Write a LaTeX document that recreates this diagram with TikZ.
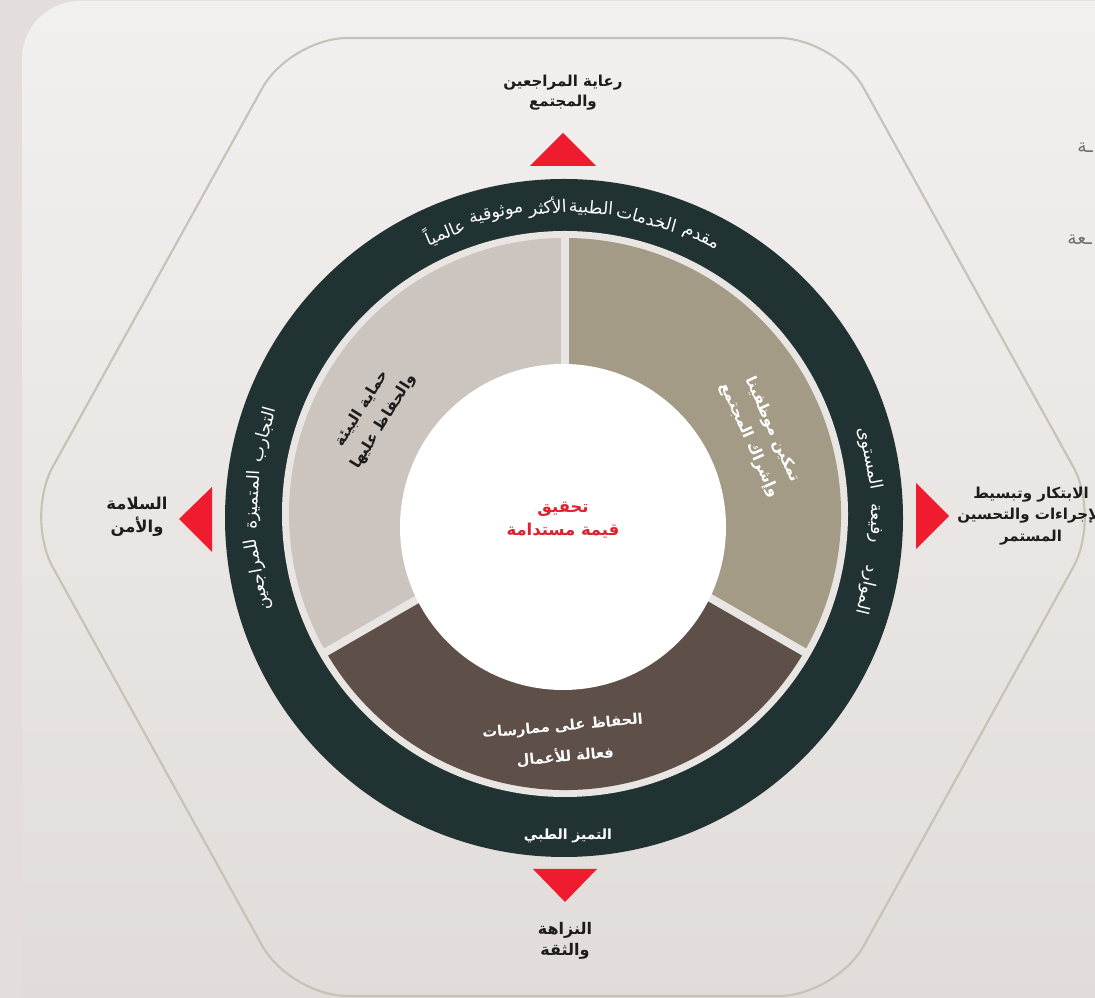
\documentclass[tikz,border=0pt]{standalone}
\usepackage{fontspec}
\TeXXeTstate=1
\newfontfamily\ar[Script=Arabic]{DejaVu Sans}
\definecolor{bgout}{HTML}{E3DEDB}
\definecolor{paneltop}{HTML}{F2F0EF}
\definecolor{panelbot}{HTML}{E0DBD8}
\definecolor{hexline}{HTML}{C7C2B6}
\definecolor{ringc}{HTML}{213232}
\definecolor{gapc}{HTML}{E9E5E2}
\definecolor{segL}{HTML}{CCC4BF}
\definecolor{segR}{HTML}{A39B86}
\definecolor{segB}{HTML}{5E5048}
\definecolor{redc}{HTML}{EE1C2E}
\definecolor{txtred}{HTML}{E0202E}
\definecolor{txtdark}{HTML}{1C1C1C}
\definecolor{greyt}{HTML}{707070}
\begin{document}
\begin{tikzpicture}[x=0.75pt,y=0.75pt,
  lbl/.style={font=\ar\bfseries\fontsize{11.3}{15}\selectfont, text=txtdark, align=center, inner sep=0pt},
  ringtxt/.style={font=\ar\fontsize{13}{15}\selectfont, text=white, inner sep=0pt},
  segtxt/.style={font=\ar\bfseries\fontsize{11.5}{19}\selectfont, align=center, inner sep=0pt},
  cuttxt/.style={font=\ar\fontsize{14}{16}\selectfont, text=greyt, inner sep=0pt, anchor=west}]
\clip (0,0) rectangle (1095,998);
\fill[bgout] (0,0) rectangle (1095,998);
\shade[top color=paneltop, bottom color=panelbot, rounded corners=43.5pt]
  (22,-60) -- (22,997) -- (1160,997) -- (1160,-60) -- cycle;
% hexagon
\draw[hexline, line width=1.6pt, rounded corners=43pt]
  (563,960) -- (836,960) -- (1101,481) -- (836,2) -- (290,2) -- (25,481) -- (290,960) -- cycle;
% centres
\coordinate (RC) at (564,480);
\coordinate (SC) at (565,484);
\coordinate (WC) at (563,471);
% ring
\fill[ringc] (RC) circle[radius=339];
\fill[gapc] (SC) circle[radius=283];
\fill[segR] (SC) -- ++(-30:276) arc[start angle=-30, end angle=90, radius=276] -- cycle;
\fill[segL] (SC) -- ++(90:276) arc[start angle=90, end angle=210, radius=276] -- cycle;
\fill[segB] (SC) -- ++(210:276) arc[start angle=210, end angle=330, radius=276] -- cycle;
\foreach \a in {90,210,330} \draw[gapc, line width=6pt] (SC) -- ++(\a:281);
\fill[white] (WC) circle[radius=163];
% red triangles
\fill[redc] (563,865) -- (530,832) -- (596,832) -- cycle;
\fill[redc] (179,479) -- (212,511) -- (212,446) -- cycle;
\fill[redc] (949,482) -- (916,515) -- (916,449) -- cycle;
\fill[redc] (565,96) -- (533,129) -- (597,129) -- cycle;
% outer labels
\node[lbl] (ltop) at (563,905) {\beginR رعاية المراجعين\endR\\\beginR والمجتمع\endR};
\node[lbl, font=\ar\bfseries\fontsize{12.3}{17}\selectfont] (lleft) at (137,481) {\beginR السلامة\endR\\\beginR والأمن\endR};
\node[lbl, font=\ar\bfseries\fontsize{11.3}{16}\selectfont] (lright) at (1031,482) {\beginR الابتكار وتبسيط\endR\\\beginR الإجراءات والتحسين\endR\\\beginR المستمر\endR};
\node[lbl, font=\ar\bfseries\fontsize{12}{16}\selectfont] (lbot) at (565,57) {\beginR النزاهة\endR\\\beginR والثقة\endR};
% cut-off legend fragments
\node[cuttxt] (cut1) at (1077,850) {\beginR ـة\endR};
\node[cuttxt] (cut2) at (1067,758) {\beginR ـعة\endR};
% centre
\node[font=\ar\bfseries\fontsize{12.3}{17}\selectfont, text=txtred, align=center, inner sep=0pt] (ctr) at (563,478)
  {\beginR تحقيق\endR\\\beginR قيمة مستدامة\endR};
% ring text top
\path (RC) ++(64:311) node[ringtxt, rotate=-26] (t1) {\beginR مقدم\endR};
\path (RC) ++(74.6:311) node[ringtxt, rotate=-15.4] (t2) {\beginR الخدمات\endR};
\path (RC) ++(85:311) node[ringtxt, rotate=-5] (t3) {\beginR الطبية\endR};
\path (RC) ++(93:311) node[ringtxt, rotate=3] (t4) {\beginR الأكثر\endR};
\path (RC) ++(102.6:311) node[ringtxt, rotate=12.6] (t5) {\beginR موثوقية\endR};
\path (RC) ++(112.6:311) node[ringtxt, rotate=22.6] (t6) {\beginR عالمياً\endR};
% ring text left
\path (RC) ++(164.5:311) node[ringtxt, rotate=74.5] (l1) {\beginR التجارب\endR};
\path (RC) ++(176.7:311) node[ringtxt, rotate=86.7] (l2) {\beginR المتميزة\endR};
\path (RC) ++(190.5:311) node[ringtxt, rotate=100.5] (l3) {\beginR للمراجعين\endR};
% ring text right
\path (RC) ++(-13.4:311) node[ringtxt, rotate=-103.4] (r1) {\beginR الموارد\endR};
\path (RC) ++(-1:311) node[ringtxt, rotate=-91] (r2) {\beginR رفيعة\endR};
\path (RC) ++(11:311) node[ringtxt, rotate=-79] (r3) {\beginR المستوى\endR};
% ring text bottom
\node[ringtxt, font=\ar\bfseries\fontsize{10.5}{13}\selectfont] (rb) at (568,162) {\beginR التميز الطبي\endR};
% segment texts
\node[segtxt, text=txtdark, rotate=58] (sl) at (373,583) {\beginR حماية البيئة\endR\\\beginR والحفاظ عليها\endR};
\node[segtxt, text=white, rotate=-66] (sr) at (761,563) {\beginR تمكين موظفينا\endR\\\beginR وإشراك المجتمع\endR};
\node[segtxt, text=white, rotate=5, font=\ar\bfseries\fontsize{11}{23}\selectfont] (sb) at (564,256) {\beginR الحفاظ على ممارسات\endR\\\beginR فعالة للأعمال\endR};
\end{tikzpicture}
\end{document}
